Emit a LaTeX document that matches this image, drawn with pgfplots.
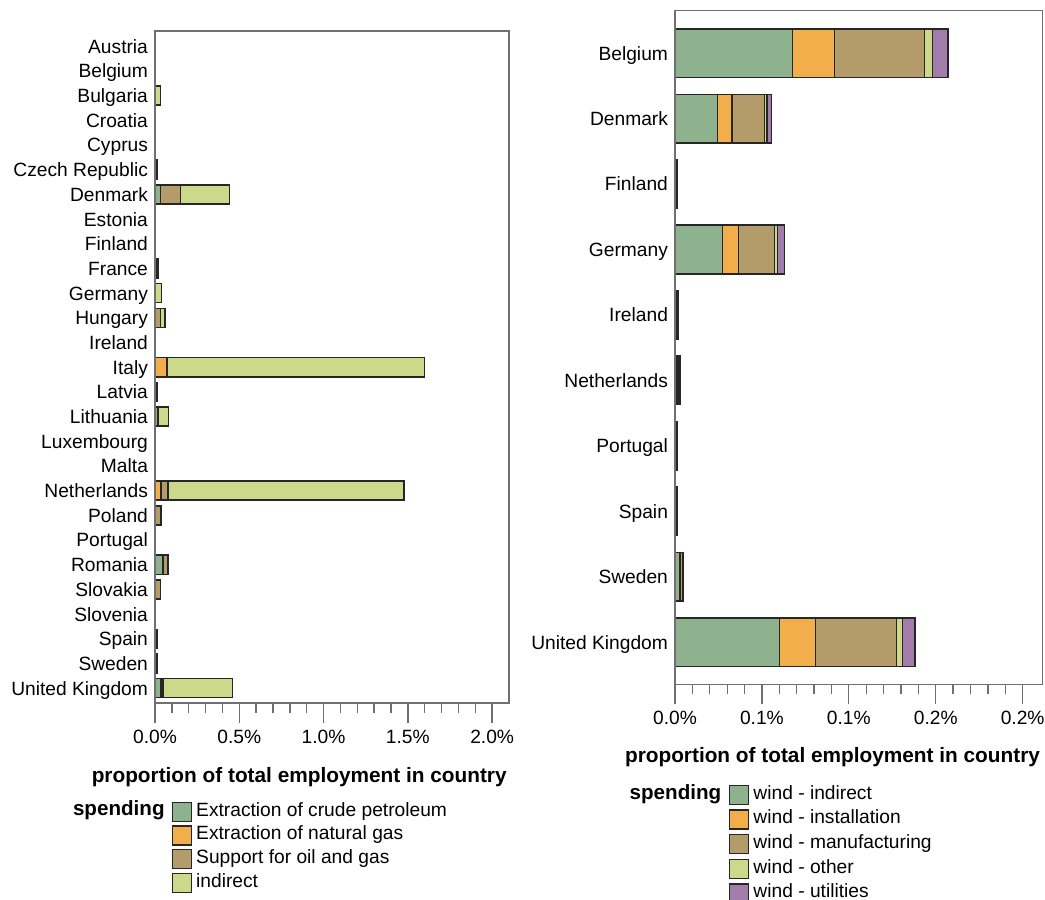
\documentclass[border=0pt]{standalone}
\usepackage{fontspec}
\setmainfont{Liberation Sans}
\usepackage{pgfplots}
\usepackage{pgfplotstable}
\pgfplotsset{compat=1.18}
\definecolor{cCrude}{HTML}{8FB28E}
\definecolor{cGas}{HTML}{F2AE4B}
\definecolor{cSupport}{HTML}{B39C6A}
\definecolor{cInd}{HTML}{CCD88A}
\definecolor{cUtil}{HTML}{A27CAA}
\definecolor{axgray}{HTML}{707070}
\definecolor{barline}{HTML}{262626}

\pgfplotstableread{
idx crude gas support indirect
0 0 0 0 0
1 0 0 0 0
2 0.003 0 0 0.029
3 0 0 0 0
4 0 0 0 0
5 0.002 0 0.004 0.006
6 0.032 0 0.12 0.291
7 0 0 0 0
8 0 0 0 0
9 0.004 0.004 0.006 0.006
10 0.002 0 0.002 0.036
11 0.002 0 0.03 0.027
12 0 0 0 0
13 0 0.067 0.003 1.53
14 0.002 0 0.004 0.005
15 0.018 0 0 0.061
16 0 0 0 0
17 0 0 0 0
18 0 0.037 0.04 1.401
19 0.002 0 0.032 0.002
20 0 0 0 0
21 0.044 0.006 0.025 0.004
22 0 0 0.032 0
23 0 0 0 0
24 0.002 0 0.004 0.005
25 0.002 0 0.004 0.005
26 0.034 0.006 0.008 0.412
}\leftdata

\pgfplotstableread{
idx ind inst manu oth util
0 0.0675 0.0242 0.0518 0.0046 0.0089
1 0.0244 0.0084 0.0186 0.0015 0.0025
2 0.0005 0.0001 0.0004 0.0001 0.0001
3 0.0272 0.0092 0.0207 0.0018 0.0040
4 0.0008 0.0003 0.0006 0.0001 0.0002
5 0.0012 0.0005 0.0009 0.0001 0.0003
6 0.0005 0.0001 0.0004 0.0001 0.0001
7 0.0005 0.0001 0.0004 0.0001 0.0001
8 0.0025 0.0004 0.0015 0.0001 0.0003
9 0.0600 0.0207 0.0468 0.0035 0.0070
}\rightdata

\pgfplotsset{
  mybar/.style={draw=barline, line width=0.75pt,
    legend image code/.code={\draw[##1] (0pt,-4.75pt) rectangle (9.5pt,4.75pt);}},
  common/.style={
    scale only axis, xbar stacked, y dir=reverse, axis on top, clip=false,
    xtick pos=bottom, tick align=outside,
    major tick length=10pt, minor tick length=5pt,
    axis line style={axgray, line width=0.65pt},
    tick style={axgray, line width=0.65pt},
    ytick style={draw=none},
    tick label style={font=\fontsize{9.6}{11}\selectfont, text=black},
    yticklabel style={xshift=10pt, text height=6.9pt, text depth=0pt},
    xlabel style={font=\fontsize{10.4}{12}\bfseries, at={(rel axis cs:1,0)}, anchor=east, inner sep=0pt, xshift=-1pt},
    legend cell align=left,
  },
}

\begin{document}
\begin{tikzpicture}
\useasboundingbox (0,0) rectangle (522.5pt,450pt);
\begin{axis}[common,
  at={(77.5pt,98.5pt)}, anchor=south west,
  width=177pt, height=336pt,
  bar width=0.77,
  xmin=0, xmax=2.1, ymin=-0.62, ymax=26.6,
  ytick={0,...,26},
  yticklabels={Austria,Belgium,Bulgaria,Croatia,Cyprus,Czech Republic,Denmark,Estonia,Finland,France,Germany,Hungary,Ireland,Italy,Latvia,Lithuania,Luxembourg,Malta,Netherlands,Poland,Portugal,Romania,Slovakia,Slovenia,Spain,Sweden,United Kingdom},
  xtick={0,0.5,1,1.5,2},
  xticklabels={0.0\%,0.5\%,1.0\%,1.5\%,2.0\%},
  minor x tick num=4,
  xlabel={proportion of total employment in country},
  xlabel style={yshift=-36.85pt},
  legend style={at={(rel axis cs:0.0472,-0.1466)}, anchor=north west, draw=none, fill=none,
    inner sep=0pt, outer sep=0pt, row sep=1.6pt, column sep=2pt,
    nodes={inner sep=0pt, text height=6.9pt, text depth=2.6pt},
    font=\fontsize{9.6}{11}\selectfont},
]
\addplot[mybar, fill=cCrude] table[x=crude, y=idx] {\leftdata};
\addplot[mybar, fill=cGas] table[x=gas, y=idx] {\leftdata};
\addplot[mybar, fill=cSupport] table[x=support, y=idx] {\leftdata};
\addplot[mybar, fill=cInd] table[x=indirect, y=idx] {\leftdata};
\legend{Extraction of crude petroleum,Extraction of natural gas,Support for oil and gas,indirect}
\node[anchor=east, font=\fontsize{10.3}{12}\bfseries\selectfont, inner sep=0pt] at (rel axis cs:0.0282,-0.1595) {spending};
\end{axis}

\begin{axis}[common,
  at={(337.5pt,107.85pt)}, anchor=south west,
  width=183.65pt, height=336.8pt,
  bar width=0.744,
  xmin=0, xmax=0.2113, ymin=-0.65, ymax=9.645,
  ytick={0,...,9},
  yticklabels={Belgium,Denmark,Finland,Germany,Ireland,Netherlands,Portugal,Spain,Sweden,United Kingdom},
  xtick={0,0.05,0.1,0.15,0.2},
  xticklabels={0.0\%,0.1\%,0.1\%,0.2\%,0.2\%},
  minor x tick num=4,
  xlabel={proportion of total employment in country},
  xlabel style={yshift=-36.2pt},
  legend style={at={(rel axis cs:0.147,-0.1488)}, anchor=north west, draw=none, fill=none,
    inner sep=0pt, outer sep=0pt, row sep=2.1pt, column sep=2pt,
    nodes={inner sep=0pt, text height=6.9pt, text depth=2.6pt},
    font=\fontsize{9.6}{11}\selectfont},
]
\addplot[mybar, fill=cCrude] table[x=ind, y=idx] {\rightdata};
\addplot[mybar, fill=cGas] table[x=inst, y=idx] {\rightdata};
\addplot[mybar, fill=cSupport] table[x=manu, y=idx] {\rightdata};
\addplot[mybar, fill=cInd] table[x=oth, y=idx] {\rightdata};
\addplot[mybar, fill=cUtil] table[x=util, y=idx] {\rightdata};
\legend{wind - indirect,wind - installation,wind - manufacturing,wind - other,wind - utilities}
\node[anchor=east, font=\fontsize{10.3}{12}\bfseries\selectfont, inner sep=0pt] at (rel axis cs:0.127,-0.1629) {spending};
\end{axis}
\end{tikzpicture}
\end{document}
